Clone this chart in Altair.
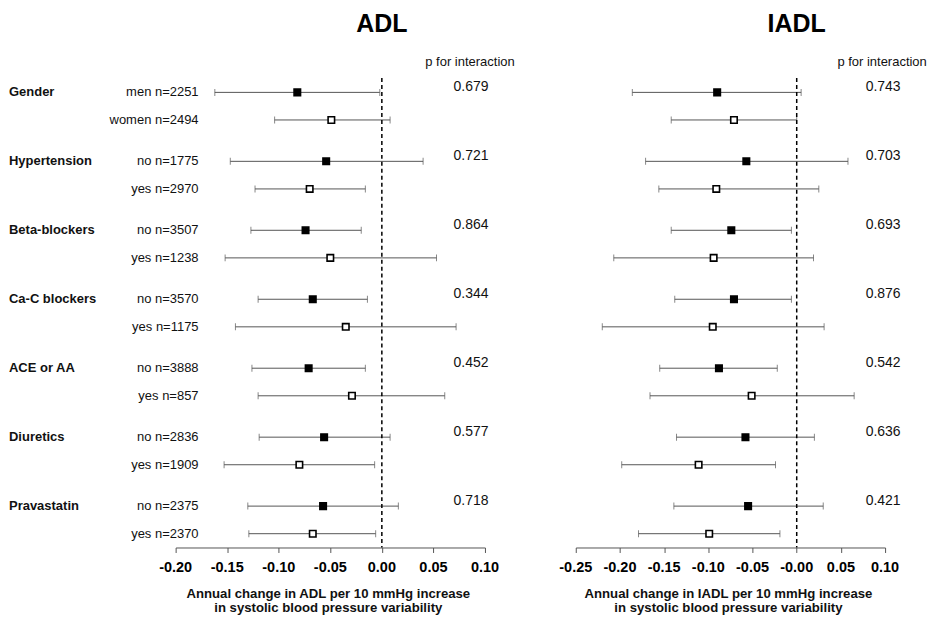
import altair as alt
import pandas as pd

groups = ["Gender", "Hypertension", "Beta-blockers", "Ca-C blockers",
          "ACE or AA", "Diuretics", "Pravastatin"]
sub_labels = ["men n=2251", "women n=2494", "no n=1775", "yes n=2970",
              "no n=3507", "yes n=1238", "no n=3570", "yes n=1175",
              "no n=3888", "yes n=857", "no n=2836", "yes n=1909",
              "no n=2375", "yes n=2370"]

adl_est = [-0.082, -0.049, -0.054, -0.070, -0.074, -0.050, -0.067, -0.035,
           -0.071, -0.029, -0.056, -0.080, -0.057, -0.067]
adl_lo = [-0.162, -0.104, -0.147, -0.123, -0.127, -0.152, -0.120, -0.142,
          -0.126, -0.120, -0.119, -0.153, -0.130, -0.129]
adl_hi = [-0.002, 0.008, 0.040, -0.016, -0.020, 0.053, -0.014, 0.072,
          -0.016, 0.061, 0.008, -0.007, 0.016, -0.006]
adl_p = ["0.679", "0.721", "0.864", "0.344", "0.452", "0.577", "0.718"]

iadl_est = [-0.090, -0.071, -0.057, -0.091, -0.074, -0.094, -0.071, -0.095,
            -0.088, -0.051, -0.058, -0.111, -0.055, -0.099]
iadl_lo = [-0.186, -0.142, -0.171, -0.156, -0.142, -0.207, -0.138, -0.220,
           -0.155, -0.166, -0.136, -0.198, -0.139, -0.179]
iadl_hi = [0.005, 0.000, 0.058, 0.025, -0.006, 0.019, -0.006, 0.031,
           -0.022, 0.065, 0.020, -0.024, 0.030, -0.019]
iadl_p = ["0.743", "0.703", "0.693", "0.876", "0.542", "0.636", "0.421"]

adl_ticks = [-0.20, -0.15, -0.10, -0.05, 0.0, 0.05, 0.10]
adl_tick_labels = ["-0.20", "-0.15", "-0.10", "-0.05", "0.00", "0.05", "0.10"]
iadl_ticks = [-0.25, -0.20, -0.15, -0.10, -0.05, 0.0, 0.05, 0.10]
iadl_tick_labels = ["-0.25", "-0.20", "-0.15", "-0.10", "-0.05", "-0.00",
                    "0.05", "0.10"]

FONT = "Liberation Sans"


def make_df(est, lo, hi, pvals):
    rows = []
    for i, lab in enumerate(sub_labels):
        g, r = divmod(i, 2)
        rows.append({
            "group": groups[g] if r == 0 else "",
            "sub": lab,
            "pos": g * 2.5 + r,
            "est": est[i], "lo": lo[i], "hi": hi[i],
            "kind": "filled" if r == 0 else "open",
            "p": pvals[g] if r == 0 else "",
        })
    return pd.DataFrame(rows)


def panel(est, lo, hi, pvals, domain, ticks, tick_labels, title, axis_title,
          show_labels, p_x):
    df = make_df(est, lo, hi, pvals)
    xs = alt.Scale(domain=domain, nice=False, zero=False)
    ys = alt.Scale(domain=[-1.48, 16.5], reverse=True, nice=False, zero=False)
    xaxis = alt.Axis(values=ticks, labels=False, tickSize=5, tickColor="#555",
                     domainColor="#555", grid=False, title="")
    base = alt.Chart(df)
    y = alt.Y("pos:Q", scale=ys, axis=None)

    ci = base.mark_rule(color="#555", strokeWidth=1).encode(
        x=alt.X("lo:Q", scale=xs, axis=xaxis), x2="hi:Q", y=y)
    cap_lo = base.mark_tick(orient="vertical", size=7, thickness=1,
                            color="#555").encode(
        x=alt.X("lo:Q", scale=xs, axis=xaxis), y=y)
    cap_hi = base.mark_tick(orient="vertical", size=7, thickness=1,
                            color="#555").encode(
        x=alt.X("hi:Q", scale=xs, axis=xaxis), y=y)
    zero_df = pd.DataFrame({"z": [0.0], "ya": [-0.52], "yb": [16.5]})
    zero = alt.Chart(zero_df).mark_rule(color="black", strokeWidth=1.5,
                                        strokeDash=[4, 3]).encode(
        x=alt.X("z:Q", scale=xs, axis=xaxis),
        y=alt.Y("ya:Q", scale=ys, axis=None), y2="yb:Q")
    pts = base.mark_square(size=42, strokeWidth=1.6, stroke="black",
                           opacity=1).encode(
        x=alt.X("est:Q", scale=xs, axis=xaxis), y=y,
        fill=alt.Fill("kind:N", scale=alt.Scale(domain=["filled", "open"],
                                                range=["black", "white"]),
                      legend=None))
    ptext = base.mark_text(
        font=FONT, fontSize=14, align="center", baseline="middle",
        dy=-5.5, color="#111").encode(x=alt.value(p_x), y=y, text="p:N")
    head_df = pd.DataFrame({"t": ["p for interaction"]})
    phead = alt.Chart(head_df).mark_text(
        font=FONT, fontSize=13, align="center", baseline="middle",
        color="#111").encode(x=alt.value(p_x - 1), y=alt.value(10.5),
                             text="t:N")
    title_df = pd.DataFrame({"t": [title], "z": [0.0]})
    ttl = alt.Chart(title_df).mark_text(
        font=FONT, fontSize=25, fontWeight="bold", align="center",
        baseline="middle", color="black").encode(
        x=alt.X("z:Q", scale=xs, axis=xaxis), y=alt.value(-28), text="t:N")
    tick_df = pd.DataFrame({"v": ticks, "lab": tick_labels})
    tlabels = alt.Chart(tick_df).mark_text(
        font=FONT, fontSize=14.5, fontWeight="bold", align="center",
        baseline="middle", color="black").encode(
        x=alt.X("v:Q", scale=xs, axis=xaxis), y=alt.value(517.5),
        text="lab:N")
    at_df = pd.DataFrame({"t": axis_title, "line": [0, 1]})
    at1 = alt.Chart(at_df).transform_filter("datum.line == 0").mark_text(
        font=FONT, fontSize=13.2, fontWeight="bold", align="center",
        baseline="middle", color="#111").encode(
        x=alt.value(153), y=alt.value(544), text="t:N")
    at2 = alt.Chart(at_df).transform_filter("datum.line == 1").mark_text(
        font=FONT, fontSize=13.2, fontWeight="bold", align="center",
        baseline="middle", color="#111").encode(
        x=alt.value(153), y=alt.value(557.5), text="t:N")
    layers = [ci, cap_lo, cap_hi, zero, pts, ptext, phead, ttl, tlabels,
              at1, at2]
    if show_labels:
        glab = base.mark_text(
            font=FONT, fontSize=13, fontWeight="bold", align="left",
            baseline="middle", color="#111").encode(
            x=alt.value(-167), y=y, text="group:N")
        slab = base.mark_text(
            font=FONT, fontSize=13, align="right", baseline="middle",
            color="#111").encode(x=alt.value(23), y=y, text="sub:N")
        layers += [glab, slab]
    return alt.layer(*layers).properties(width=310, height=497)


left = panel(adl_est, adl_lo, adl_hi, adl_p, [-0.2, 0.1], adl_ticks,
             adl_tick_labels, "ADL",
             ["Annual change in ADL per 10 mmHg increase",
              "in systolic blood pressure variability"],
             True, 296)
right = panel(iadl_est, iadl_lo, iadl_hi, iadl_p, [-0.25, 0.1], iadl_ticks,
              iadl_tick_labels, "IADL",
              ["Annual change in IADL per 10 mmHg increase",
               "in systolic blood pressure variability"],
              False, 308)

chart = alt.hconcat(left, right, spacing=44).properties(
    padding={"left": 1, "top": 3, "right": 0, "bottom": 0}
).configure_view(strokeWidth=0)

chart.save("out.html", embed_options={"renderer": "svg", "actions": False})
